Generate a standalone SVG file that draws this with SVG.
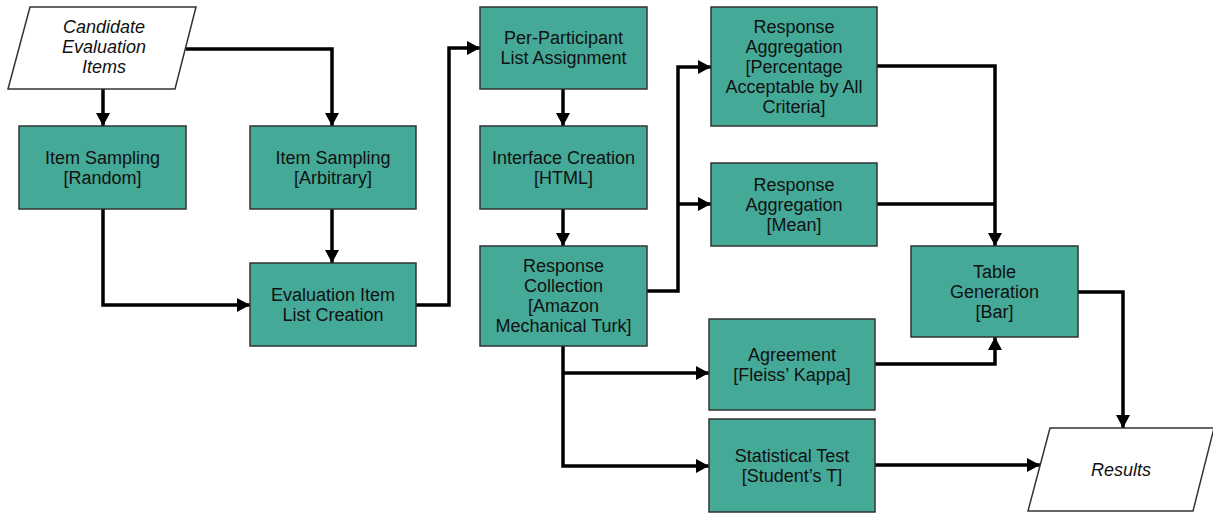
<svg xmlns="http://www.w3.org/2000/svg" width="1213" height="513" viewBox="0 0 1213 513">
<style>
.box{fill:#45a998;stroke:#333;stroke-width:1.5}
.io{fill:#fff;stroke:#333;stroke-width:1.5}
.t{font-family:"Liberation Sans",Arial,sans-serif;font-size:18px;fill:#111;text-anchor:middle}
.it{font-style:italic}
.c{fill:none;stroke:#000;stroke-width:3.5;stroke-linejoin:miter}
</style>
<defs>
<marker id="ah" markerUnits="userSpaceOnUse" markerWidth="14" markerHeight="15" refX="13" refY="7" orient="auto">
<path d="M0,0 L13,7 L0,14 z" fill="#000"/>
</marker>
</defs>
<g id="connectors">
<path class="c" d="M103,89 V126" marker-end="url(#ah)"/>
<path class="c" d="M186,49 H332 V126" marker-end="url(#ah)"/>
<path class="c" d="M103,209 V305 H250" marker-end="url(#ah)"/>
<path class="c" d="M332,209 V263" marker-end="url(#ah)"/>
<path class="c" d="M416,305 H449 V48 H480" marker-end="url(#ah)"/>
<path class="c" d="M563,89 V126" marker-end="url(#ah)"/>
<path class="c" d="M563,209 V246" marker-end="url(#ah)"/>
<path class="c" d="M647,291 H678 V67 H711" marker-end="url(#ah)"/>
<path class="c" d="M678,204 H711" marker-end="url(#ah)"/>
<path class="c" d="M563,346 V466 H709" marker-end="url(#ah)"/>
<path class="c" d="M563,373 H709" marker-end="url(#ah)"/>
<path class="c" d="M877,66 H995 V246" marker-end="url(#ah)"/>
<path class="c" d="M877,204 H995"/>
<path class="c" d="M875,364 H995 V337" marker-end="url(#ah)"/>
<path class="c" d="M1078,292 H1123 V428" marker-end="url(#ah)"/>
<path class="c" d="M875,465 H1040" marker-end="url(#ah)"/>
</g>
<g id="candidate">
<polygon class="io" points="30,7 196,7 175,89 8,89"/>
<text class="t it" x="104" y="33">Candidate</text>
<text class="t it" x="104" y="53">Evaluation</text>
<text class="t it" x="104" y="73">Items</text>
</g>
<g id="sampling-random">
<rect class="box" x="19" y="126" width="167" height="83"/>
<text class="t" x="102.5" y="163.5">Item Sampling</text>
<text class="t" x="102.5" y="183.5">[Random]</text>
</g>
<g id="sampling-arbitrary">
<rect class="box" x="250" y="126" width="166" height="83"/>
<text class="t" x="333" y="163.5">Item Sampling</text>
<text class="t" x="333" y="183.5">[Arbitrary]</text>
</g>
<g id="list-creation">
<rect class="box" x="250" y="263" width="166" height="83"/>
<text class="t" x="333" y="300.5">Evaluation Item</text>
<text class="t" x="333" y="320.5">List Creation</text>
</g>
<g id="list-assignment">
<rect class="box" x="480" y="7" width="167" height="82"/>
<text class="t" x="563.5" y="44">Per-Participant</text>
<text class="t" x="563.5" y="64">List Assignment</text>
</g>
<g id="interface">
<rect class="box" x="480" y="126" width="167" height="83"/>
<text class="t" x="563.5" y="163.5">Interface Creation</text>
<text class="t" x="563.5" y="183.5">[HTML]</text>
</g>
<g id="collection">
<rect class="box" x="480" y="246" width="167" height="100"/>
<text class="t" x="563.5" y="272">Response</text>
<text class="t" x="563.5" y="292">Collection</text>
<text class="t" x="563.5" y="312">[Amazon</text>
<text class="t" x="563.5" y="332">Mechanical Turk]</text>
</g>
<g id="agg-percentage">
<rect class="box" x="711" y="7" width="166" height="119"/>
<text class="t" x="794" y="32.5">Response</text>
<text class="t" x="794" y="52.5">Aggregation</text>
<text class="t" x="794" y="72.5">[Percentage</text>
<text class="t" x="794" y="92.5">Acceptable by All</text>
<text class="t" x="794" y="112.5">Criteria]</text>
</g>
<g id="agg-mean">
<rect class="box" x="711" y="163" width="166" height="83"/>
<text class="t" x="794" y="190.5">Response</text>
<text class="t" x="794" y="210.5">Aggregation</text>
<text class="t" x="794" y="230.5">[Mean]</text>
</g>
<g id="agreement">
<rect class="box" x="709" y="319" width="166" height="91"/>
<text class="t" x="792" y="360.5">Agreement</text>
<text class="t" x="792" y="380.5">[Fleiss’ Kappa]</text>
</g>
<g id="stat-test">
<rect class="box" x="709" y="419" width="166" height="93"/>
<text class="t" x="792" y="461.5">Statistical Test</text>
<text class="t" x="792" y="481.5">[Student’s T]</text>
</g>
<g id="table">
<rect class="box" x="911" y="246" width="167" height="91"/>
<text class="t" x="994.5" y="277.5">Table</text>
<text class="t" x="994.5" y="297.5">Generation</text>
<text class="t" x="994.5" y="317.5">[Bar]</text>
</g>
<g id="results">
<polygon class="io" points="1050,428 1214,428 1193,511 1028,511"/>
<text class="t it" x="1121" y="476">Results</text>
</g>
</svg>
